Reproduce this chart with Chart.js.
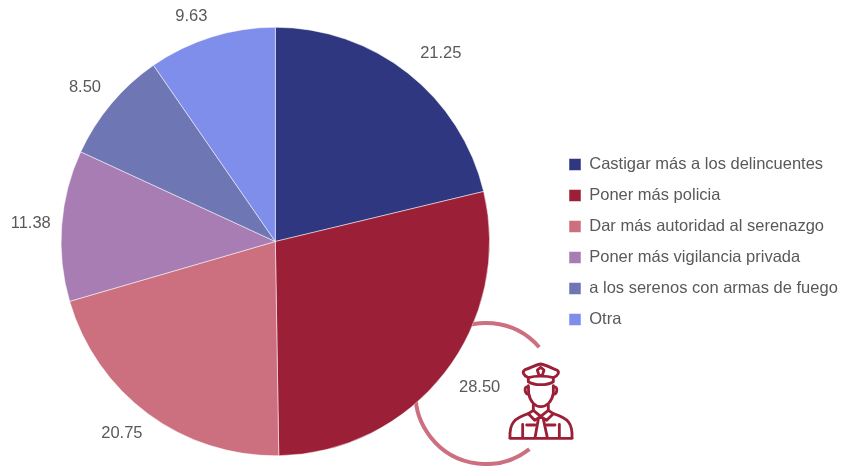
<!DOCTYPE html>
<html><head><meta charset="utf-8">
<script src="https://cdn.jsdelivr.net/npm/chart.js@4"></script>
<style>html,body{margin:0;padding:0;background:#fff}#w{width:841px;height:466px;position:relative}</style>
</head><body><div id="w"><canvas id="c" width="841" height="466"></canvas></div>
<script>
const categories = ["Castigar más a los delincuentes","Poner más policia","Dar más autoridad al serenazgo","Poner más vigilancia privada","a los serenos con armas de fuego","Otra"];
const values = [21.25,28.50,20.75,11.38,8.50,9.63];
const valueLabels = ["21.25","28.50","20.75","11.38","8.50","9.63"];
const colors = ["#2E3780","#9B2037","#CC7080","#A77DB3","#6F76B4","#7F8DEB"];
const textColor = "#595959";
const fontFamily = "'Liberation Sans', Arial, sans-serif";
const labelDx = [18,16,-12,-7,-8,-13];
const labelDy = [-1,0,0,0,-1,2];

const ring = {
  id:'ring',
  beforeDatasetsDraw(chart){
    const c=chart.ctx; c.save();
    c.strokeStyle="#CC7080"; c.lineWidth=4;
    c.beginPath(); c.arc(486,393.5,70.5,52*Math.PI/180,319*Math.PI/180); c.stroke();
    c.restore();
  }
};
const labelsPlugin = {
  id:'valueLabels',
  afterDatasetsDraw(chart){
    const c=chart.ctx, meta=chart.getDatasetMeta(0);
    c.save(); c.fillStyle=textColor; c.font="16.5px "+fontFamily; c.textAlign="center"; c.textBaseline="middle";
    meta.data.forEach((a,i)=>{
      const m=(a.startAngle+a.endAngle)/2, s=Math.cos(m), t=Math.sin(m);
      const x=a.x+(a.outerRadius+24)*s+labelDx[i], y=a.y+(a.outerRadius+24)*t+labelDy[i];
      c.fillText(valueLabels[i],x,y);
    });
    c.restore();
  }
};
const legendShift = {
  id:'legendShift',
  beforeDraw(chart){
    const l=chart.legend;
    const want=569, have=l.left+l.options.labels.padding;
    const d=want-have; l.left+=d; l.right+=d;
    l.top+=0.5; l.bottom+=0.5;
  }
};
const icon = {
  id:'icon',
  afterDraw(chart){
    const c=chart.ctx; c.save();
    c.translate(500,355); c.scale(1/3,1/3);
    c.strokeStyle="#9B2037"; c.lineWidth=8.5; c.lineJoin="round"; c.lineCap="round";
    const P=(d)=>c.stroke(new Path2D(d));
    P("M85 68 C70 62 65 50 75 44 C90 40 105 30 122 27 C140 30 155 40 170 45 C180 50 175 62 160 68");
    P("M85 68 C105 62 140 62 160 68 L160 80 C140 92 105 92 85 80 Z");
    P("M122 37 L132 45 L128 58 L122 62 L116 58 L112 45 Z");
    P("M85 92 L86 115 C90 140 105 155 122 155 C140 155 156 140 160 115 L160 92");
    P("M84 96 C72 92 72 116 86 118 M160 96 C174 92 174 116 160 118");
    P("M100 150 L100 166 M145 150 L145 166");
    P("M30 248 C28 205 42 190 85 176 L100 166 L122 184 L145 166 L160 176 C205 190 218 205 216 248");
    P("M30 250 L216 250");
    P("M85 176 L104 196 L122 184 L140 196 L160 176");
    P("M115 192 L105 248 M130 192 L142 248");
    P("M68 208 L68 248 M178 208 L178 248 M80 210 L105 210 M140 210 L165 210");
    c.restore();
  }
};
new Chart(document.getElementById('c'),{
  type:'pie',
  data:{labels:categories,datasets:[{data:values,backgroundColor:colors,borderColor:"#ffffff",borderWidth:0.5}]},
  options:{
    responsive:false,animation:false,
    layout:{padding:{top:27,bottom:10,left:3,right:0}},
    plugins:{
      tooltip:{enabled:false},
      legend:{position:'right',align:'center',labels:{boxWidth:12,boxHeight:12,padding:14.5,color:textColor,font:{size:16.5,family:fontFamily}}}
    }
  },
  plugins:[ring,labelsPlugin,legendShift,icon]
});
</script></body></html>
